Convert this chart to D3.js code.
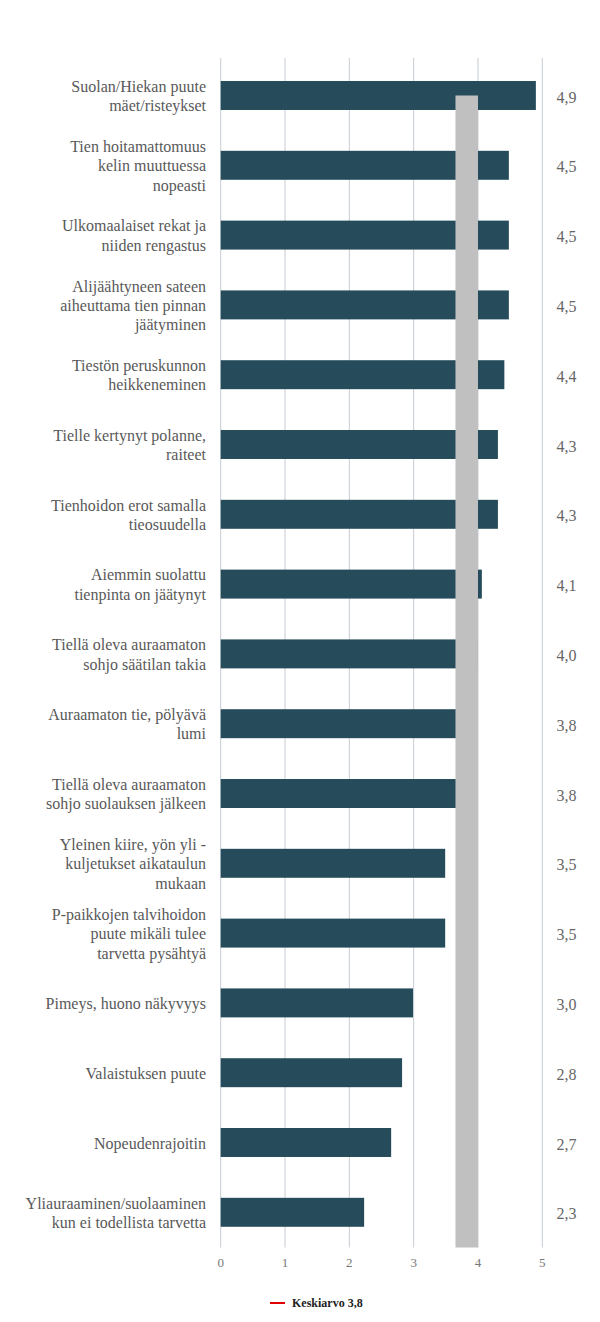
<!DOCTYPE html>
<html>
<head>
<meta charset="utf-8">
<script src="https://cdn.jsdelivr.net/npm/d3@7"></script>
<style>
  html, body { margin: 0; padding: 0; background: #fff; }
  svg { display: block; }
  svg text { font-family: "Liberation Serif", "Times New Roman", Times, "DejaVu Serif", serif; }
</style>
</head>
<body>
<div id="chart"></div>
<script>
const categories = [
  ["Suolan/Hiekan puute", "mäet/risteykset"],
  ["Tien hoitamattomuus", "kelin muuttuessa", "nopeasti"],
  ["Ulkomaalaiset rekat ja", "niiden rengastus"],
  ["Alijäähtyneen sateen", "aiheuttama tien pinnan", "jäätyminen"],
  ["Tiestön peruskunnon", "heikkeneminen"],
  ["Tielle kertynyt polanne,", "raiteet"],
  ["Tienhoidon erot samalla", "tieosuudella"],
  ["Aiemmin suolattu", "tienpinta on jäätynyt"],
  ["Tiellä oleva auraamaton", "sohjo säätilan takia"],
  ["Auraamaton tie, pölyävä", "lumi"],
  ["Tiellä oleva auraamaton", "sohjo suolauksen jälkeen"],
  ["Yleinen kiire, yön yli -", "kuljetukset aikataulun", "mukaan"],
  ["P-paikkojen talvihoidon", "puute mikäli tulee", "tarvetta pysähtyä"],
  ["Pimeys, huono näkyvyys"],
  ["Valaistuksen puute"],
  ["Nopeudenrajoitin"],
  ["Yliauraaminen/suolaaminen", "kun ei todellista tarvetta"]
];
const values = [4.9, 4.48, 4.48, 4.48, 4.41, 4.31, 4.31, 4.06, 4.0, 3.8, 3.8, 3.49, 3.49, 2.99, 2.82, 2.65, 2.23];
const valueLabels = ["4,9","4,5","4,5","4,5","4,4","4,3","4,3","4,1","4,0","3,8","3,8","3,5","3,5","3,0","2,8","2,7","2,3"];
const xTicks = [0, 1, 2, 3, 4, 5];
const avgBand = [3.65, 4.0];
const legendLabel = "Keskiarvo 3,8";

const W = 600, H = 1322;
const svg = d3.select("#chart").append("svg").attr("width", W).attr("height", H);

const x = d3.scaleLinear().domain([0, 5]).range([220.7, 542.3]);
const ids = d3.range(categories.length);
const y = d3.scaleBand().domain(ids).range([60.6, 1247.2]).paddingInner(0.585).paddingOuter(0.2925);

// gridlines
svg.append("g").selectAll("line").data(xTicks).join("line")
  .attr("x1", d => x(d)).attr("x2", d => x(d))
  .attr("y1", 58).attr("y2", 1247.5)
  .attr("stroke", "#c5ccd3").attr("stroke-width", 1);

// bars
svg.append("g").selectAll("rect").data(ids).join("rect")
  .attr("x", x(0))
  .attr("y", i => y(i))
  .attr("width", i => x(values[i]) - x(0))
  .attr("height", y.bandwidth())
  .attr("fill", "#264c5b");

// average band (gray)
svg.append("rect")
  .attr("x", x(avgBand[0]))
  .attr("width", x(avgBand[1]) - x(avgBand[0]))
  .attr("y", y(0) + y.bandwidth() / 2)
  .attr("height", 1247.5 - (y(0) + y.bandwidth() / 2))
  .attr("fill", "#c0c0c0");

// category labels
const lineH = 19.4;
const labG = svg.append("g");
ids.forEach(i => {
  const lines = categories[i];
  const cy = y(i) + y.bandwidth() / 2;
  const t = labG.append("text")
    .attr("text-anchor", "end")
    .style("font-size", "16px")
    .attr("fill", "#595959");
  lines.forEach((ln, k) => {
    t.append("tspan")
      .attr("x", 206)
      .attr("y", cy + (k - (lines.length - 1) / 2) * lineH + 6)
      .text(ln);
  });
});

// value labels on right
svg.append("g").selectAll("text").data(ids).join("text")
  .attr("x", 566.5).attr("y", i => y(i) + y.bandwidth() / 2 + 7)
  .attr("text-anchor", "middle")
  .style("font-size", "16px")
  .attr("fill", "#666")
  .text(i => valueLabels[i]);

// x axis tick labels
svg.append("g").selectAll("text").data(xTicks).join("text")
  .attr("x", d => x(d)).attr("y", 1267)
  .attr("text-anchor", "middle")
  .style("font-size", "13px")
  .attr("fill", "#777")
  .text(d => d);

// legend
svg.append("line").attr("x1", 270).attr("x2", 285).attr("y1", 1303).attr("y2", 1303)
  .attr("stroke", "#e00000").attr("stroke-width", 2);
svg.append("text").attr("x", 292).attr("y", 1307.3)
  .style("font-size", "12px").style("font-weight", "bold")
  .attr("fill", "#222").text(legendLabel);
</script>
</body>
</html>
